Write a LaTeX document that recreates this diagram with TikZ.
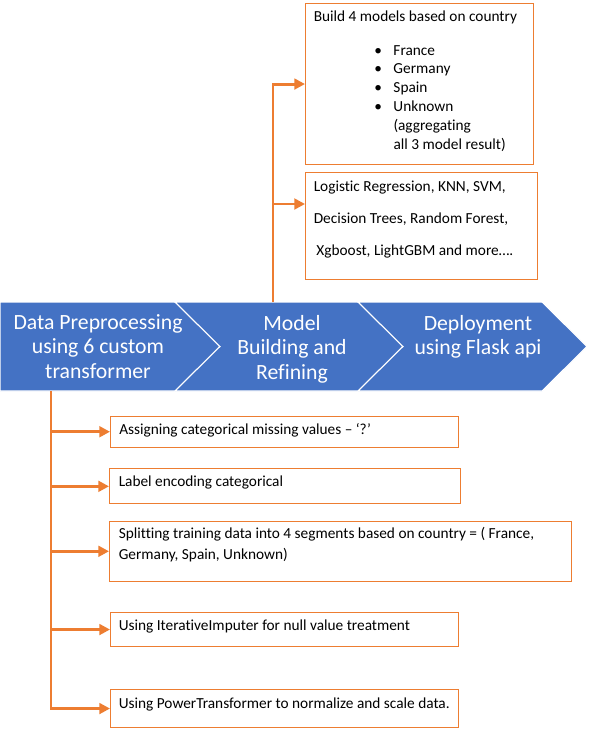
\documentclass[tikz,border=0pt]{standalone}
\usepackage{fontspec}
\setmainfont{Carlito}[Ligatures=NoCommon]
\usetikzlibrary{arrows.meta}

\definecolor{flowblue}{HTML}{4472C4}
\definecolor{flowline}{HTML}{ED7D31}

\newdimen\px
\px=0.75pt

\begin{document}
\begin{tikzpicture}[
    x=0.75pt, y=-0.75pt,
    phase/.style={fill=flowblue, draw=white, line width=0.8pt, line join=miter},
    phasetext/.style={text=white, align=center, inner sep=0pt, font=\fontsize{16.3}{18.4}\selectfont},
    box/.style={draw=flowline, line width=0.8pt, anchor=north west, inner sep=0pt},
    boxtext/.style={anchor=base west, align=left, inner sep=0pt, font=\fontsize{11.5}{15.4}\selectfont},
    trunk/.style={flowline, line width=2.2pt},
    branch/.style={trunk, -{Triangle[length=8pt, width=8pt]}},
]

\fill[white] (0,0) rectangle (589,736);
\useasboundingbox (0,0) rectangle (589,736);

% ---- process band ----
\foreach \a/\b/\n in {0/175/0, 175/358/45, 358/542/45} {
  \path[phase] (\a,302) -- (\b,302) -- (\b+45,346.5) -- (\b,391)
    -- (\a,391) -- (\a+\n,346.5) -- cycle;
}

\node[phasetext] (prep)   at (98,346.5) {Data Preprocessing\\using 6 custom\\transformer};
\node[phasetext] (model)  at (292,349)  {Model\\Building and\\Refining};
\node[phasetext] (deploy) at (478,337)  {Deployment\\using Flask api};

% ---- model boxes (top) ----
\node[box, minimum width=228*\px, minimum height=161*\px] (build) at (305,3) {};
\node[box, minimum width=232*\px, minimum height=107*\px] (algo)  at (305,172) {};

% multi-line texts sit on the baseline of their last line
\node[boxtext, font=\fontsize{11.5}{14.1}\selectfont] (build-txt) at (313.5,149) {%
  Build 4 models based on country\\[10.9pt]
  \hspace*{45.5pt}\makebox[14.3pt][l]{\textbullet}France\\
  \hspace*{45.5pt}\makebox[14.3pt][l]{\textbullet}Germany\\
  \hspace*{45.5pt}\makebox[14.3pt][l]{\textbullet}Spain\\
  \hspace*{45.5pt}\makebox[14.3pt][l]{\textbullet}Unknown\\
  \hspace*{59.8pt}(aggregating\\
  \hspace*{59.8pt}all 3 model result)};

\node[boxtext, font=\fontsize{11.5}{24}\selectfont] (algo-txt) at (313.5,255.7) {%
  Logistic Regression, KNN, SVM,\\
  Decision Trees, Random Forest,\\
  \hspace*{2pt}Xgboost, LightGBM and more….};

% ---- preprocessing boxes (bottom) ----
\node[box, minimum width=348*\px, minimum height=31*\px] (assign) at (110,415.7) {};
\node[box, minimum width=351*\px, minimum height=35*\px] (encode) at (109,468.3) {};
\node[box, minimum width=462*\px, minimum height=60.5*\px] (split) at (109,520.5) {};
\node[box, minimum width=348*\px, minimum height=34*\px] (impute) at (110,612) {};
\node[box, minimum width=348*\px, minimum height=38*\px] (scale)  at (110,689) {};

\node[boxtext] (assign-txt) at (119,434)   {Assigning categorical missing values – ‘?’};
\node[boxtext] (encode-txt) at (118.5,486.7) {Label encoding categorical};
\node[boxtext] (split-txt)  at (118.5,559.5) {Splitting training data into 4 segments based on country = ( France,\\Germany, Spain, Unknown)};
\node[boxtext] (impute-txt) at (118.5,630) {Using IterativeImputer for null value treatment};
\node[boxtext] (scale-txt)  at (118.5,708) {Using PowerTransformer to normalize and scale data.};

% ---- connectors ----
\coordinate (up)   at (273,302);
\coordinate (up-b) at (273,204);
\coordinate (down) at (51,391);

\draw[branch] (up) |- (build.west);
\draw[branch] (up-b) -- (up-b -| algo.west);

\draw[branch] (down) |- (scale.west);
\foreach \t in {assign, encode, split, impute} {
  \draw[branch] (down |- \t.west) -- (\t.west);
}

\end{tikzpicture}
\end{document}
